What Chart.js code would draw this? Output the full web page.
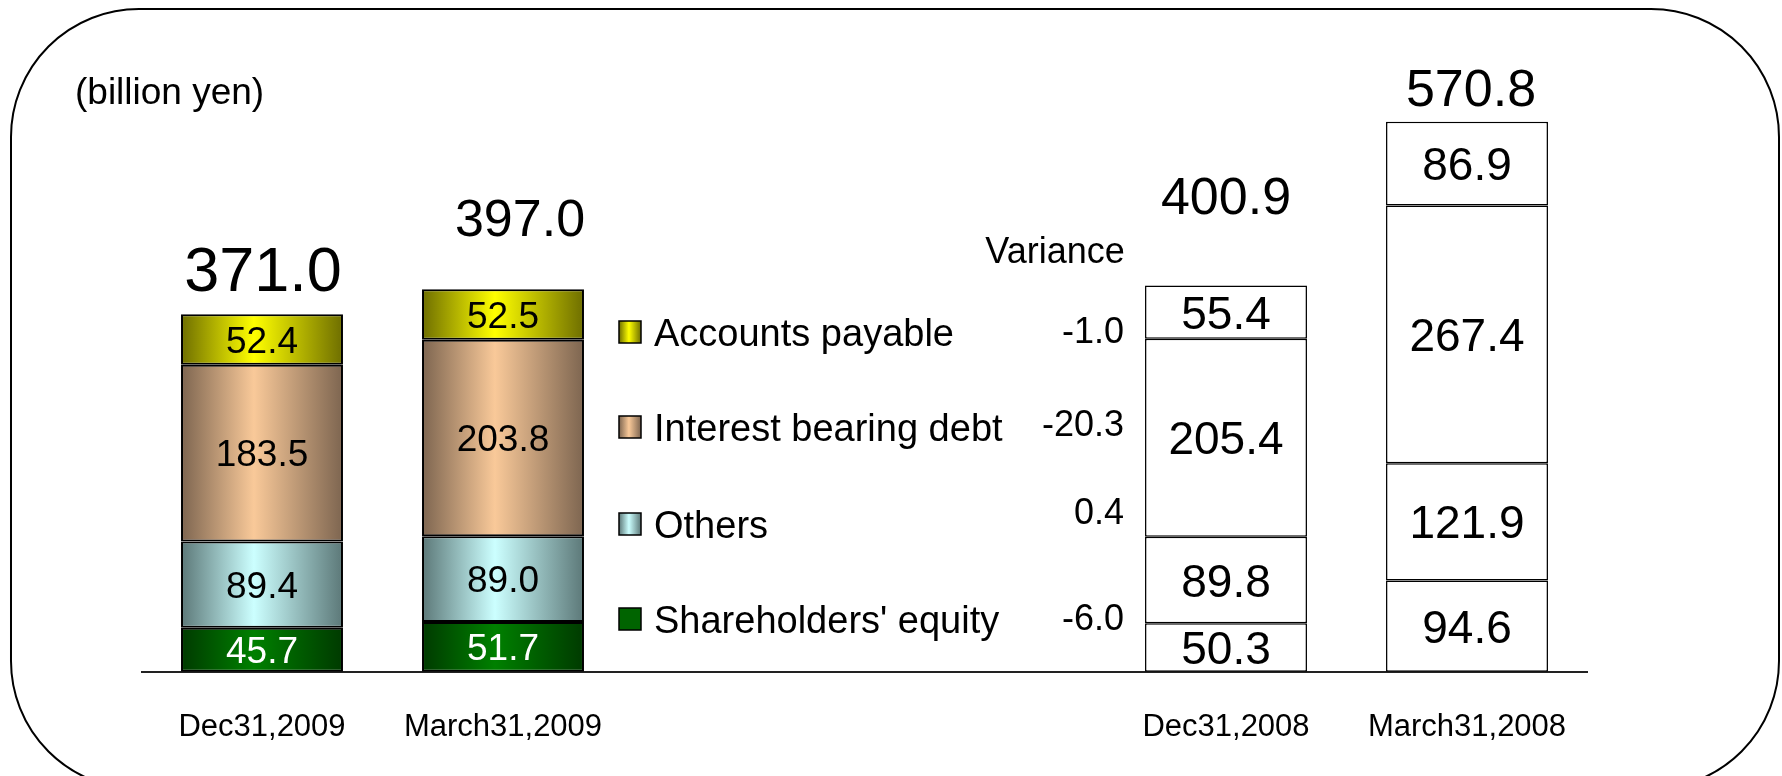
<!DOCTYPE html>
<html>
<head>
<meta charset="utf-8">
<script src="https://cdn.jsdelivr.net/npm/chart.js@4.4.1/dist/chart.umd.min.js"></script>
<style>
  html, body { margin: 0; padding: 0; background: #fff; overflow: hidden; }
  #wrap { position: relative; width: 1782px; height: 776px; }
</style>
</head>
<body>
<div id="wrap"><canvas id="bsChart"></canvas></div>
<script>
// 카테고리 (가운데 두 칸은 범례/증감 영역)
const categories = ['Dec31,2009', 'March31,2009', '', '', 'Dec31,2008', 'March31,2008'];

// 항목별 값 (billion yen)
const equity  = [45.7, 51.7, null, null, 50.3, 94.6];
const others  = [89.4, 89.0, null, null, 89.8, 121.9];
const debt    = [183.5, 203.8, null, null, 205.4, 267.4];
const payable = [52.4, 52.5, null, null, 55.4, 86.9];
const totals  = [371.0, 397.0, null, null, 400.9, 570.8];

const seriesNames = ["Shareholders' equity", 'Others', 'Interest bearing debt', 'Accounts payable'];
const variance = [-6.0, 0.4, -20.3, -1.0];
const unitLabel = '(billion yen)';
const varianceTitle = 'Variance';

// 스타일 (위치/크기/색)
const FONT = "'Liberation Sans', Arial, sans-serif";
const shaded = [true, true, false, false, false, false];
const palette = [
  { edge: '#003a00', mid: '#008000', text: '#ffffff' },
  { edge: '#5c7878', mid: '#ccffff', text: '#000000' },
  { edge: '#7d6550', mid: '#f9c999', text: '#000000' },
  { edge: '#6e6e00', mid: '#ffff00', text: '#000000' }
];
const BAR_PCT = 0.672;
const CAP = 0.358;                       // 숫자 높이의 절반 (em)
const totalFont = [63, 52, 0, 0, 52, 52];
const totalGap = [23, 53, 0, 0, 71, 16]; // 막대 상단에서 글자 기준선까지
const totalDx = [1, 17, 0, 0, 0, 4];
const legendY = [619, 524, 427, 332];
const varianceY = [617, 511, 423, 330];

function barFill(pal) {
  return function(ctx) {
    const i = ctx.dataIndex;
    if (!shaded[i]) return '#ffffff';
    const chart = ctx.chart;
    const xs = chart.scales.x;
    if (!xs || !chart.chartArea) return pal.mid;
    const cx = xs.getPixelForValue(i);
    const hw = xs.width / categories.length * BAR_PCT / 2;
    const g = chart.ctx.createLinearGradient(cx - hw, 0, cx + hw, 0);
    g.addColorStop(0, pal.edge);
    g.addColorStop(0.45, pal.mid);
    g.addColorStop(1, pal.edge);
    return g;
  };
}

const seriesData = [equity, others, debt, payable];
const datasets = seriesData.map((data, k) => ({
  label: seriesNames[k],
  data: data,
  backgroundColor: barFill(palette[k]),
  borderColor: '#000000',
  borderWidth: ctx => shaded[ctx.dataIndex] ? 2 : 1.5,
  borderSkipped: false,
  barPercentage: BAR_PCT,
  categoryPercentage: 1.0
}));

// 외곽 둥근 테두리
const framePlugin = {
  id: 'frame',
  beforeDraw(chart) {
    const c = chart.ctx;
    c.save();
    c.fillStyle = '#ffffff';
    c.fillRect(0, 0, chart.width, chart.height);
    c.beginPath();
    c.lineWidth = 2;
    c.strokeStyle = '#000000';
    c.roundRect(11, 9, 1768, 780, 128);
    c.stroke();
    c.restore();
  }
};

// 값 라벨, 합계, 범례, 증감
const labelPlugin = {
  id: 'labels',
  afterDatasetsDraw(chart) {
    const c = chart.ctx;
    c.save();
    c.textAlign = 'center';
    c.textBaseline = 'alphabetic';

    chart.data.datasets.forEach((ds, di) => {
      const meta = chart.getDatasetMeta(di);
      meta.data.forEach((el, i) => {
        const v = ds.data[i];
        if (v === null || v === undefined) return;
        const p = el.getProps(['x', 'y', 'base'], true);
        const size = shaded[i] ? 37 : 46;
        c.font = size + 'px ' + FONT;
        c.fillStyle = shaded[i] ? palette[di].text : '#000000';
        c.fillText(v.toFixed(1), p.x, (p.y + p.base) / 2 + CAP * size);
      });
    });

    // 합계
    const topMeta = chart.getDatasetMeta(chart.data.datasets.length - 1);
    totals.forEach((t, i) => {
      if (t === null) return;
      const el = topMeta.data[i];
      c.font = totalFont[i] + 'px ' + FONT;
      c.fillStyle = '#000000';
      c.fillText(t.toFixed(1), el.x + totalDx[i], el.y - totalGap[i]);
    });

    // 범례
    for (let k = seriesNames.length - 1; k >= 0; k--) {
      const y = legendY[k];
      const g = c.createLinearGradient(619, 0, 641, 0);
      g.addColorStop(0, palette[k].edge);
      g.addColorStop(0.45, palette[k].mid);
      g.addColorStop(1, palette[k].edge);
      c.fillStyle = k === 0 ? '#006400' : g;
      c.fillRect(619, y - 11, 22, 22);
      c.lineWidth = 1.5;
      c.strokeStyle = '#000000';
      c.strokeRect(619, y - 11, 22, 22);
      c.textAlign = 'left';
      c.font = '38px ' + FONT;
      c.fillStyle = '#000000';
      c.fillText(seriesNames[k], 654, y + CAP * 38);
    }

    // 증감
    c.font = '36px ' + FONT;
    c.textAlign = 'center';
    c.fillText(varianceTitle, 1055, 263);
    c.textAlign = 'right';
    variance.forEach((v, k) => {
      c.fillText(v.toFixed(1), 1124, varianceY[k] + CAP * 36);
    });

    // 단위
    c.textAlign = 'left';
    c.font = '37px ' + FONT;
    c.fillText(unitLabel, 75, 104);

    c.restore();
  }
};

new Chart(document.getElementById('bsChart'), {
  type: 'bar',
  data: { labels: categories, datasets: datasets },
  options: {
    responsive: true,
    maintainAspectRatio: false,
    animation: false,
    layout: { padding: { left: 141.5, right: 194.5, top: 93.5, bottom: 1 } },
    plugins: {
      legend: { display: false },
      tooltip: { enabled: false },
      title: { display: false }
    },
    scales: {
      x: {
        stacked: true,
        grid: { display: false },
        border: { display: true, color: '#222222', width: 2 },
        ticks: {
          autoSkip: false,
          maxRotation: 0,
          padding: 29,
          color: '#000000',
          font: { size: 31, family: FONT }
        }
      },
      y: {
        stacked: true,
        display: false,
        min: 0,
        max: 600
      }
    }
  },
  plugins: [framePlugin, labelPlugin]
});
</script>
</body>
</html>
